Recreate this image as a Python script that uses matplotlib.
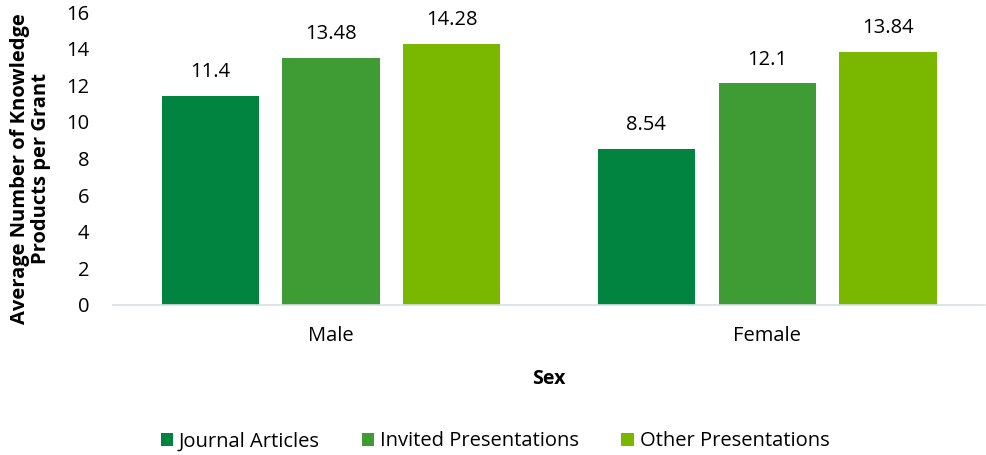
import numpy as np
import matplotlib.pyplot as plt

plt.rcParams['font.family'] = ['Open Sans', 'DejaVu Sans']

groups = ['Male', 'Female']
series = ['Journal Articles', 'Invited Presentations', 'Other Presentations']
journal = [11.4, 8.54]
invited = [13.48, 12.1]
other = [14.28, 13.84]
colors = ['#00843F', '#3F9C35', '#7AB800']

fig = plt.figure(figsize=(9.86, 4.55), dpi=100)
ax = fig.add_axes([0.1146, 0.3297, 0.8844, 0.6439])

x = np.arange(len(groups))
width = 0.2225
step = 0.2775
for i, (name, vals) in enumerate(zip(series, [journal, invited, other])):
    pos = x + (i - 1) * step
    ax.bar(pos, vals, width, color=colors[i], label=name)
    for px, v in zip(pos, vals):
        ax.annotate(f'{v:g}', (px, v), xytext=(0, 10), textcoords='offset points',
                    ha='center', va='bottom', fontsize=14.5, color='#000000')

ax.set_xlim(-0.5, 1.5)
ax.set_ylim(0, 16)
ax.set_yticks(range(0, 17, 2))
ax.set_xticks(x)
ax.set_xticklabels(groups)
ax.tick_params(axis='both', length=0, labelsize=14.5, colors='#000000')
ax.tick_params(axis='y', pad=17)
ax.tick_params(axis='x', pad=15)
for s in ['top', 'right', 'left']:
    ax.spines[s].set_visible(False)
ax.spines['bottom'].set_color('#D9DEE6')
ax.spines['bottom'].set_linewidth(1.2)

ax.set_xlabel('Sex', fontsize=14, fontweight='bold', labelpad=17)
ax.set_ylabel('Average Number of Knowledge\nProducts per Grant', fontsize=14.5,
              fontweight='bold', linespacing=1.1)
ax.yaxis.set_label_coords(-0.071, 0.465)

fig.legend(loc='center', bbox_to_anchor=(0.502, 0.03), ncol=3, frameon=False,
           fontsize=14.5, handlelength=0.6, handleheight=0.6, handletextpad=0.3,
           columnspacing=2.1)

fig.savefig('out.png', dpi=100)
